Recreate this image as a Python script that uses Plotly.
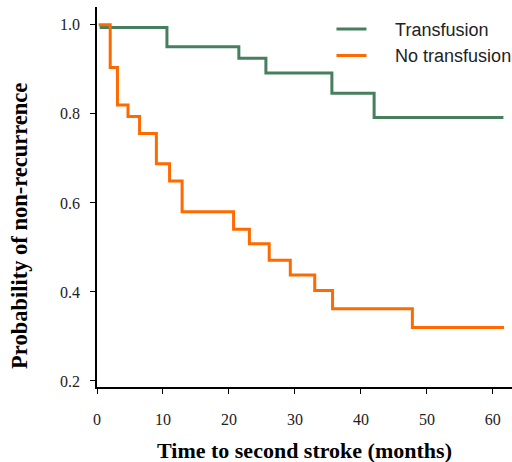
import plotly.graph_objects as go

# Kaplan-Meier style step data (months, probability of non-recurrence)
transfusion_time = [0.4, 10.6, 21.5, 25.6, 35.6, 42.0, 61.6]
transfusion_prob = [0.994, 0.951, 0.925, 0.892, 0.846, 0.792, 0.792]

no_transfusion_time = [0.25, 2.0, 3.1, 4.7, 6.45, 9.0, 11.0, 12.9, 20.7, 23.1,
                       26.1, 29.3, 33.0, 35.7, 47.8, 61.7]
no_transfusion_prob = [1.0, 0.904, 0.820, 0.794, 0.756, 0.688, 0.649, 0.580, 0.541,
                       0.508, 0.471, 0.438, 0.403, 0.362, 0.320, 0.320]

series_names = ["Transfusion", "No transfusion"]
x_ticks = [0, 10, 20, 30, 40, 50, 60]
y_ticks = [0.2, 0.4, 0.6, 0.8, 1.0]

GREEN = "#457f5e"
ORANGE = "#ff6a00"
serif = "Liberation Serif, Times New Roman, serif"
sans = "Liberation Sans, Arial, sans-serif"
PAD = "\u00a0" * 4 + "\u2009"

fig = go.Figure()
fig.add_trace(go.Scatter(x=transfusion_time, y=transfusion_prob, mode="lines",
                         line=dict(color=GREEN, width=3, shape="hv"),
                         name=PAD + series_names[0]))
fig.add_trace(go.Scatter(x=no_transfusion_time, y=no_transfusion_prob, mode="lines",
                         line=dict(color=ORANGE, width=3, shape="hv"),
                         name=PAD + series_names[1]))

fig.update_layout(
    width=512, height=462,
    margin=dict(l=97, r=0, t=7, b=75, autoexpand=False),
    paper_bgcolor="white", plot_bgcolor="white",
    showlegend=True,
    legend=dict(x=0.565, xanchor="left", y=0.99, yanchor="top",
                font=dict(family=sans, size=18, color="#222"),
                bgcolor="rgba(0,0,0,0)", tracegroupgap=0),
    xaxis=dict(range=[0, 62.9], tickvals=x_ticks, ticks="outside", ticklen=5,
               tickwidth=1.2, tickcolor="black", showline=True, linecolor="black",
               linewidth=1.5, showgrid=False, zeroline=False,
               tickfont=dict(family=serif, size=16, color="#222"),
               ticklabelstandoff=12),
    yaxis=dict(range=[0.1865, 1.04], tickvals=y_ticks, tickformat=".1f",
               ticks="outside", ticklen=5, tickwidth=1.2, tickcolor="black",
               showline=True, linecolor="black", linewidth=1.5, showgrid=False,
               zeroline=False, tickfont=dict(family=serif, size=16, color="#222"),
               ticklabelstandoff=7),
    annotations=[
        dict(text="<b>Time to second stroke (months)</b>", xref="paper", yref="paper",
             x=0.5, y=-0.168, xanchor="center", yanchor="middle", showarrow=False,
             font=dict(family=serif, size=22, color="black")),
        dict(text="<b>Probability of non-recurrence</b>", xref="paper", yref="paper",
             x=-0.187, y=0.425, xanchor="center", yanchor="middle", showarrow=False,
             textangle=-90, font=dict(family=serif, size=22.5, color="black")),
    ],
)

fig.write_html("out.html", config={"displayModeBar": False},
               post_script="document.body.style.margin='0';document.body.style.overflow='hidden';")
